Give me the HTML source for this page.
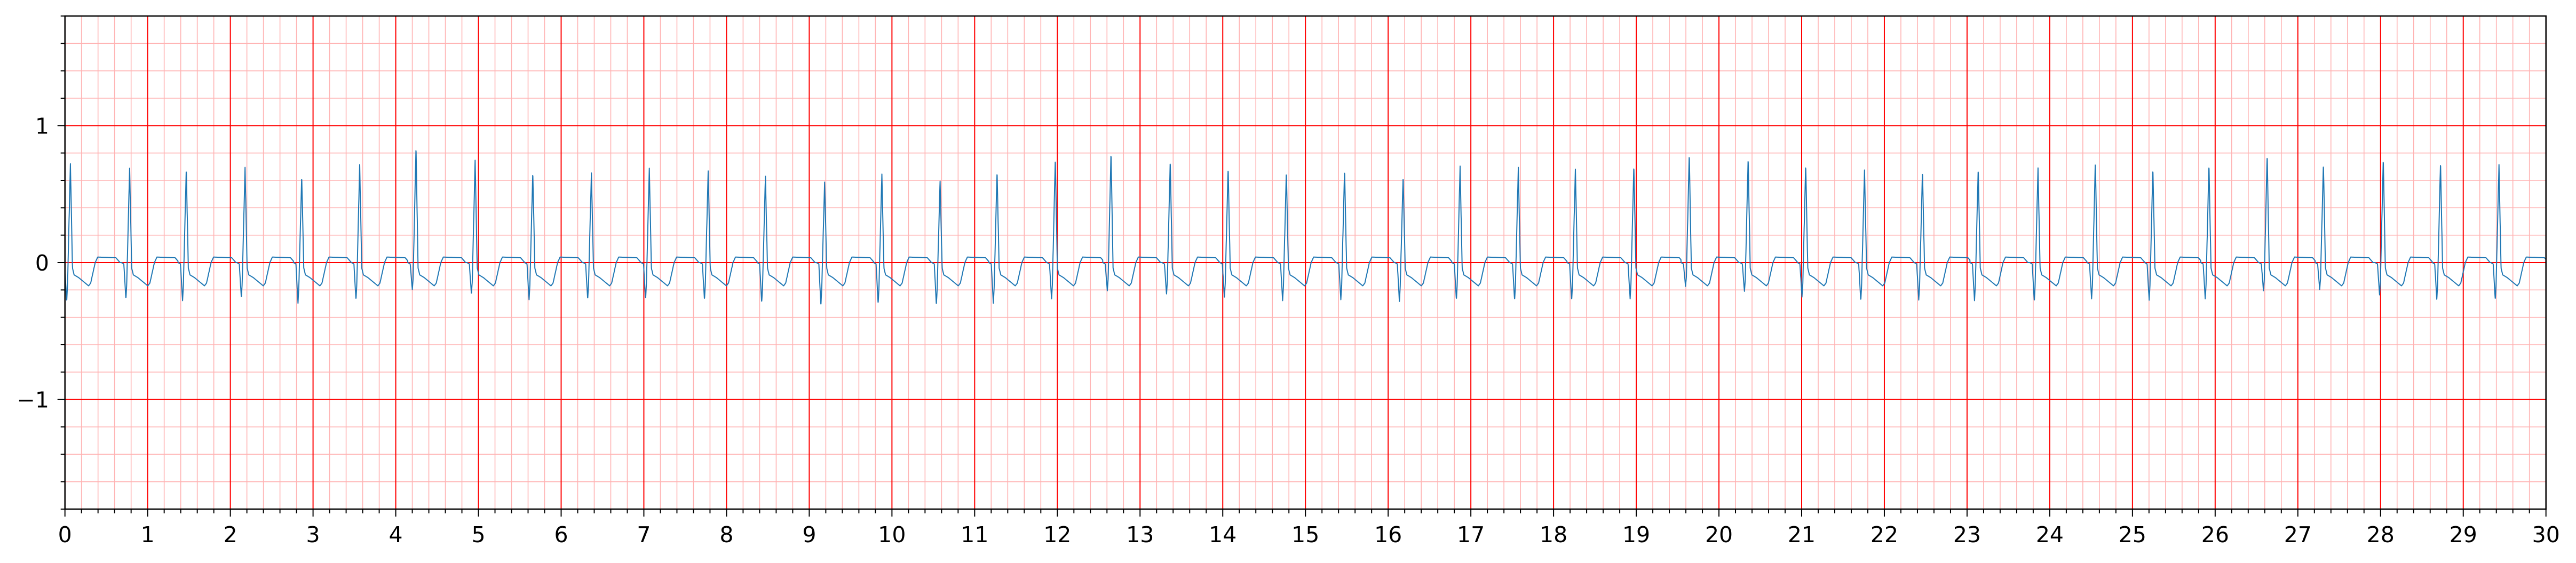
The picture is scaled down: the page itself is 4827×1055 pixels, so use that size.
<!DOCTYPE html>
<html><head><meta charset="utf-8"><style>
html,body{margin:0;padding:0;background:#fff}
svg{display:block}
text{font-family:"DejaVu Sans","Liberation Sans",sans-serif;font-size:41px;fill:#000}
</style></head><body>
<svg id="chart" width="4827" height="1055" viewBox="0 0 4827 1055" xmlns="http://www.w3.org/2000/svg">
<rect x="0" y="0" width="4827" height="1055" fill="#fff"/>
<g id="grid"></g>
<g id="trace"></g>
<g id="axes"></g>
</svg>
<script>
// R-peak times (s)
const beatTimes = [0.066,0.782,1.467,2.178,2.863,3.564,4.245,4.960,5.657,
6.366,7.066,7.778,8.470,9.186,9.878,10.582,11.271,11.975,
12.649,13.365,14.065,14.769,15.473,16.181,16.870,17.574,
18.264,18.971,19.641,20.353,21.049,21.760,22.461,23.135,23.858,
24.551,25.247,25.925,26.629,27.309,28.033,28.725,29.432];
// R-peak amplitudes
const rAmps = [0.721,0.689,0.686,0.695,0.630,0.715,0.844,0.747,0.659,
0.654,0.689,0.669,0.630,0.587,0.646,0.594,0.665,0.760,
0.802,0.744,0.691,0.663,0.676,0.630,0.704,0.695,
0.682,0.708,0.792,0.762,0.715,0.676,0.667,0.685,0.691,
0.738,0.686,0.715,0.786,0.721,0.757,0.734,0.715];
// pre-R dip depths
const qDips = [-0.284,-0.265,-0.278,-0.258,-0.297,-0.271,-0.197,-0.232,-0.271,
-0.268,-0.265,-0.271,-0.293,-0.314,-0.301,-0.310,-0.297,-0.265,
-0.206,-0.229,-0.252,-0.278,-0.271,-0.284,-0.271,-0.274,
-0.274,-0.265,-0.174,-0.210,-0.252,-0.278,-0.274,-0.278,-0.284,
-0.265,-0.275,-0.265,-0.206,-0.197,-0.236,-0.268,-0.271];
const xTickLabels = ["0","1","2","3","4","5","6","7","8","9","10","11","12","13","14","15","16","17","18","19","20","21","22","23","24","25","26","27","28","29","30"];
const yTickValues = [-1,0,1];
const yTickLabels = ["\u22121","0","1"];

const X0=121.7, X1=4770.7, Y0=30, Y1=954;
const xMin=0,xMax=30,yMin=-1.8,yMax=1.8;
const sx=v=>X0+(v-xMin)/(xMax-xMin)*(X1-X0);
const sy=v=>Y1-(v-yMin)/(yMax-yMin)*(Y1-Y0);
const NS="http://www.w3.org/2000/svg";
function mk(tag,attrs,parent){const e=document.createElementNS(NS,tag);for(const k in attrs)e.setAttribute(k,attrs[k]);parent.appendChild(e);return e;}
const grid=document.getElementById('grid'),axes=document.getElementById('axes'),trace=document.getElementById('trace');

// minor grid
for(let i=0;i<=150;i++){const v=i*0.2;if(i%5===0)continue;
 const l=mk('line',{x1:sx(v),x2:sx(v),y1:Y0,y2:Y1,stroke:'#ffb3b3','stroke-width':1.6},grid);
 
 }
for(let i=-9;i<=9;i++){if(i%5===0)continue;const v=i*0.2;
 const l=mk('line',{x1:X0,x2:X1,y1:sy(v),y2:sy(v),stroke:'#ffb3b3','stroke-width':1.6},grid);
 
 }
// major grid
for(let v=0;v<=30;v++){
 const l=mk('line',{x1:sx(v),x2:sx(v),y1:Y0,y2:Y1,stroke:'#ff0000','stroke-width':2},grid);
 
 }
for(const v of yTickValues){
 const l=mk('line',{x1:X0,x2:X1,y1:sy(v),y2:sy(v),stroke:'#ff0000','stroke-width':2},grid);
 
 }

// ECG template: [offset s, value] ; 'Q' and 'R' replaced per beat
const tpl=[[-0.10,0.0],[-0.07,-0.01],[-0.045,'Q'],[-0.035,'Qh'],[0,'R'],[0.025,-0.04],[0.045,-0.09],[0.10,-0.11],[0.22,-0.17],[0.245,-0.15],[0.30,0.0],[0.33,0.04],[0.55,0.035],[0.60,0.0]];
function beatVal(j,d){
 const R=rAmps[j],Q=qDips[j];
 const pts=tpl.map(p=>[p[0],p[1]==='Q'?Q:p[1]==='Qh'?Q*0.6:p[1]==='R'?R:p[1]]);
 if(d<=pts[0][0]||d>=pts[pts.length-1][0])return 0;
 for(let k=1;k<pts.length;k++){if(d<=pts[k][0]){const a=pts[k-1],b=pts[k];return a[1]+(b[1]-a[1])*(d-a[0])/(b[0]-a[0]);}}
 return 0;}
let pts=[];
for(let t=0;t<=30.0001;t+=0.002){
 let j=0;for(let k=0;k<beatTimes.length;k++){if(beatTimes[k]-0.1<=t)j=k;}
 let v=beatVal(j,t-beatTimes[j]);
 if(j+1<beatTimes.length&&t>=beatTimes[j+1]-0.1)v=beatVal(j+1,t-beatTimes[j+1]);
 if(t<beatTimes[0]-0.1)v=-0.12;
 pts.push(sx(t).toFixed(1)+','+sy(v).toFixed(1));}
const pl=mk('polyline',{points:pts.join(' '),fill:'none',stroke:'#1f77b4','stroke-width':2,'stroke-linejoin':'round'},trace);



// spines
const sp=mk('rect',{x:X0,y:Y0,width:X1-X0,height:Y1-Y0,fill:'none',stroke:'#000','stroke-width':2.5},axes);


// x ticks
for(let i=0;i<=150;i++){const v=i*0.2,maj=i%5===0;
 const t=mk('line',{x1:sx(v),x2:sx(v),y1:Y1,y2:Y1+(maj?14:8),stroke:'#000','stroke-width':2},axes);
 
 }
xTickLabels.forEach((s,i)=>{
 const tx=mk('text',{x:sx(i),y:1016,'text-anchor':'middle'},axes);tx.textContent=s;
 
 });
// y ticks
for(let i=-9;i<=9;i++){const v=i*0.2,maj=i%5===0;
 const t=mk('line',{x1:X0-(maj?14:8),x2:X0,y1:sy(v),y2:sy(v),stroke:'#000','stroke-width':2},axes);
 
 }
yTickValues.forEach((v,i)=>{
 const tx=mk('text',{x:92,y:sy(v)+15,'text-anchor':'end'},axes);tx.textContent=yTickLabels[i];
 
 });
</script>
</body></html>
